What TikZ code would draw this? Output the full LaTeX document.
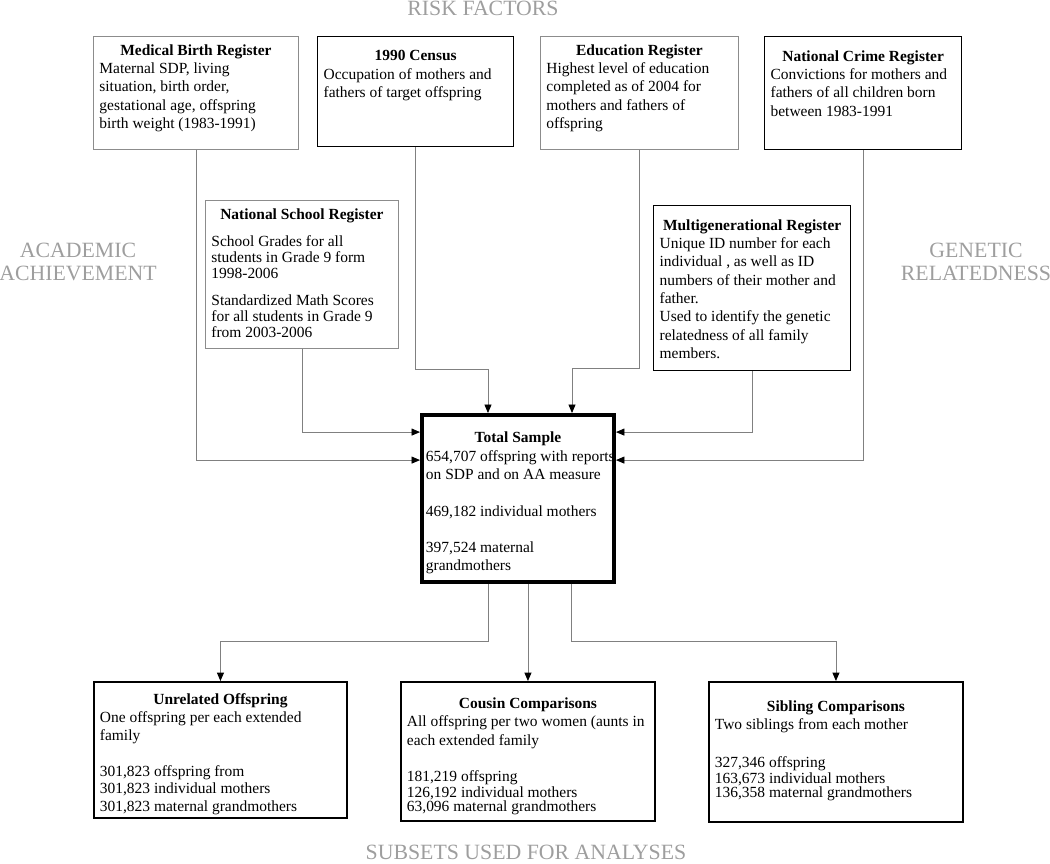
\documentclass[tikz,border=0pt]{standalone}
\usepackage{fontspec}
\setmainfont{Liberation Serif}
\usepackage{tikz}
\usetikzlibrary{arrows.meta}
\definecolor{boxgray}{gray}{0.55}
\definecolor{linegray}{gray}{0.5}
\definecolor{headgray}{gray}{0.62}
% [top pad]{width}{height}{title}{body}
\newcommand{\regtext}[5][0pt]{\parbox[t][#3][t]{#2}{\vspace*{#1}\centering\textbf{#4}\par\raggedright #5}}

\begin{document}
\begin{tikzpicture}[x=0.025cm,y=-0.025cm,
  every node/.style={font=\fontsize{11}{13}\selectfont},
  reg/.style={draw,anchor=north west,inner xsep=0.15cm,inner ysep=0pt},
  grayreg/.style={reg,draw=boxgray,line width=0.6pt},
  blackreg/.style={reg,line width=0.9pt},
  subset/.style={reg,line width=1.3pt},
  head/.style={text=headgray,font=\fontsize{15.5}{16.6}\selectfont,align=center},
  link/.style={draw=linegray,line width=0.6pt,-{Triangle[length=6pt,width=5pt,color=black]}}]
  \useasboundingbox (0,0) rectangle (1050,863);

  % headings
  \node[head,anchor=base] (risk) at (483,15) {RISK FACTORS};
  \node[head] (acad) at (78,262) {ACADEMIC\\ACHIEVEMENT};
  \node[head] (gen) at (976,262) {GENETIC\\RELATEDNESS};
  \node[head,anchor=base] (subsets) at (526,859) {SUBSETS USED FOR ANALYSES};

  % registers
  \node[grayreg] (med) at (93,36) {\regtext[0.2cm]{4.825cm}{2.825cm}{Medical Birth Register}{Maternal SDP, living\\situation, birth order,\\gestational age, offspring\\birth weight (1983-1991)}};
  \node[blackreg] (census) at (317,36) {\regtext[0.35cm]{4.6cm}{2.75cm}{1990 Census}{Occupation of mothers and\\fathers of target offspring}};
  \node[grayreg] (edu) at (540,36) {\regtext[0.2cm]{4.65cm}{2.825cm}{Education Register}{Highest level of education\\completed as of 2004 for\\mothers and fathers of\\offspring}};
  \node[blackreg] (crime) at (764,36) {\regtext[0.35cm]{4.625cm}{2.825cm}{National Crime Register}{Convictions for mothers and\\fathers of all children born\\between 1983-1991}};
  \node[grayreg,font=\fontsize{11}{11.4}\selectfont] (school) at (205,200) {\regtext[0.2cm]{4.525cm}{3.7cm}{National School Register}{\vspace{8pt}School Grades for all\\students in Grade 9 form\\1998-2006\\[8pt]Standardized Math Scores\\for all students in Grade 9\\from 2003-2006}};
  \node[blackreg] (multi) at (653,205) {\regtext[0.35cm]{4.625cm}{4.125cm}{Multigenerational Register}{Unique ID number for each\\individual , as well as ID\\numbers of their mother and\\father.\\Used to identify the genetic\\relatedness of all family\\members.}};

  % total sample
  \node[reg,line width=2.8pt,inner xsep=0.1cm] (total) at (420,413) {\regtext[0.43cm]{4.6cm}{4.175cm}{Total Sample}{\mbox{654,707 offspring with reports}\\on SDP and on AA measure\\[13pt]469,182 individual mothers\\[13pt]397,524 maternal\\grandmothers}};

  % subsets
  \node[subset] (unrel) at (93,681) {\regtext[0.28cm]{6.025cm}{3.4cm}{Unrelated Offspring}{One offspring per each extended\\family\par\vspace{13pt}{\fontsize{11}{12.4}\selectfont 301,823 offspring from\\301,823 individual mothers\\301,823 maternal grandmothers\par}}};
  \node[subset] (cousin) at (400,681) {\regtext[0.4cm]{6.05cm}{3.475cm}{Cousin Comparisons}{All offspring per two women (aunts in\\each extended family\par\vspace{15pt}{\fontsize{11}{10}\selectfont 181,219 offspring\\126,192 individual mothers\\63,096 maternal grandmothers\par}}};
  \node[subset] (sib) at (708,681) {\regtext[0.47cm]{6.05cm}{3.5cm}{Sibling Comparisons}{Two siblings from each mother\par\vspace{16pt}{\fontsize{11}{10}\selectfont 327,346 offspring\\163,673 individual mothers\\136,358 maternal grandmothers\par}}};

  % connectors
  \draw[link] (med.south) |- ([yshift=0.96cm]total.west);
  \draw[link] (school.south) |- ([yshift=1.66cm]total.west);
  \draw[link] (crime.south) |- ([yshift=0.96cm]total.east);
  \draw[link] (multi.south) |- ([yshift=1.66cm]total.east);
  \draw[link] (census.south) -- ++(0,222) -| ([xshift=-0.75cm]total.north);
  \draw[link] (edu.south) -- ++(0,219) -| ([xshift=1.35cm]total.north);
  \draw[link] ([xshift=-0.75cm]total.south) -- ++(0,57) -| (unrel.north);
  \draw[link] (total.south -| cousin.north) -- (cousin.north);
  \draw[link] ([xshift=1.325cm]total.south) -- ++(0,57) -| (sib.north);
\end{tikzpicture}
\end{document}
